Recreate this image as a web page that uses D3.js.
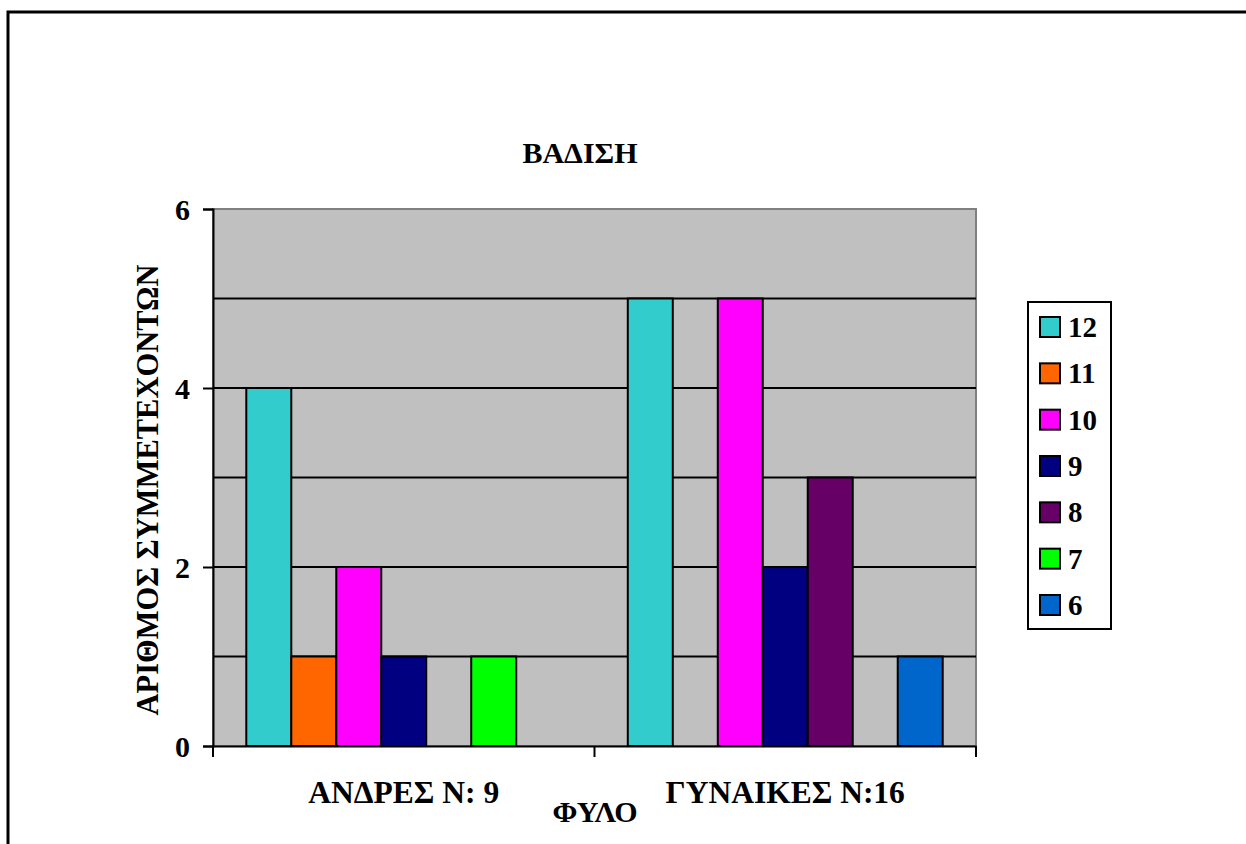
<!DOCTYPE html>
<html>
<head>
<meta charset="utf-8">
<script src="https://cdn.jsdelivr.net/npm/d3@7"></script>
<style>
  html, body { margin: 0; padding: 0; background: #fff; }
  svg { display: block; }
  svg text { font-family: "Liberation Serif", "Times New Roman", serif; font-weight: bold; fill: #000; }
</style>
</head>
<body>
<svg id="chart" width="1246" height="844"></svg>
<script>
const categories = ["ΑΝΔΡΕΣ Ν: 9", "ΓΥΝΑΙΚΕΣ Ν:16"];
const seriesNames = ["12", "11", "10", "9", "8", "7", "6"];
const seriesColors = ["#33CCCC", "#FF6600", "#FF00FF", "#000080", "#660066", "#00FF00", "#0066CC"];
const menValues = [4, 1, 2, 1, 0, 1, 0];
const womenValues = [5, 0, 5, 2, 3, 0, 1];
const yTicks = [0, 2, 4, 6];
const yGrid = [1, 2, 3, 4, 5];
const titleText = "ΒΑΔΙΣΗ";
const yTitle = "ΑΡΙΘΜΟΣ ΣΥΜΜΕΤΕΧΟΝΤΩΝ";
const xTitle = "ΦΥΛΟ";

const values = [menValues, womenValues];

const svg = d3.select("#chart");
const plot = { left: 213, right: 976, top: 209, bottom: 746 };

// outer frame
svg.append("rect").attr("x", 8).attr("y", 12).attr("width", 1400).attr("height", 1000)
  .attr("fill", "none").attr("stroke", "#000").attr("stroke-width", 3);

const x = d3.scaleBand().domain(categories).range([plot.left, plot.right]).padding(0);
const xs = d3.scaleBand().domain(seriesNames).range([0, x.bandwidth()]).paddingInner(0).paddingOuter(0.74);
const y = d3.scaleLinear().domain([0, 6]).range([plot.bottom, plot.top]);

// plot background
svg.append("rect").attr("x", plot.left).attr("y", plot.top)
  .attr("width", plot.right - plot.left).attr("height", plot.bottom - plot.top)
  .attr("fill", "#C0C0C0").attr("stroke", "#808080").attr("stroke-width", 2);

// gridlines
svg.append("g").selectAll("line").data(yGrid).join("line")
  .attr("x1", plot.left).attr("x2", plot.right)
  .attr("y1", d => y(d)).attr("y2", d => y(d))
  .attr("stroke", "#000").attr("stroke-width", 2);

// bars
const data = [];
categories.forEach((c, ci) => seriesNames.forEach((s, si) => {
  if (values[ci][si] > 0) data.push({ c, s, v: values[ci][si], color: seriesColors[si] });
}));
svg.append("g").selectAll("rect").data(data).join("rect")
  .attr("x", d => x(d.c) + xs(d.s))
  .attr("y", d => y(d.v))
  .attr("width", xs.bandwidth())
  .attr("height", d => y(0) - y(d.v))
  .attr("fill", d => d.color)
  .attr("stroke", "#000").attr("stroke-width", 2);

// y axis
const yAxis = svg.append("g").attr("transform", `translate(${plot.left},0)`)
  .call(d3.axisLeft(y).tickValues(yTicks).tickSize(10).tickPadding(13).tickFormat(d3.format("d")));
yAxis.attr("font-size", null).attr("font-family", null);
yAxis.select(".domain").attr("stroke", "#000").attr("stroke-width", 2);
yAxis.selectAll(".tick line").attr("stroke", "#000").attr("stroke-width", 2);
yAxis.selectAll(".tick text").style("font-size", "30px").attr("dy", "0.36em");

// x axis
const xAxis = svg.append("g").attr("transform", `translate(0,${plot.bottom})`)
  .call(d3.axisBottom(x).tickSize(0).tickFormat(""));
xAxis.select(".domain").attr("stroke", "#000").attr("stroke-width", 2);
const xBounds = [plot.left, plot.left + x.bandwidth(), plot.right];
xAxis.selectAll(".bound").data(xBounds).join("line").attr("class", "bound")
  .attr("x1", d => d).attr("x2", d => d).attr("y1", 0).attr("y2", 11)
  .attr("stroke", "#000").attr("stroke-width", 2);
svg.append("g").selectAll("text").data(categories).join("text")
  .attr("x", d => x(d) + x.bandwidth() / 2).attr("y", 803)
  .attr("text-anchor", "middle").style("font-size", "31.5px").text(d => d);

// titles
svg.append("text").attr("x", 580).attr("y", 163).attr("text-anchor", "middle")
  .style("font-size", "30px").text(titleText);
svg.append("text").attr("x", 595).attr("y", 822).attr("text-anchor", "middle")
  .style("font-size", "30px").text(xTitle);
svg.append("text").attr("transform", "translate(158,490) rotate(-90)").attr("text-anchor", "middle")
  .style("font-size", "30.5px").text(yTitle);

// legend
const legend = svg.append("g");
legend.append("rect").attr("x", 1028).attr("y", 302).attr("width", 83).attr("height", 327)
  .attr("fill", "#fff").attr("stroke", "#000").attr("stroke-width", 2);
const ly = d3.scalePoint().domain(seriesNames).range([327, 605]);
const items = legend.selectAll("g.item").data(seriesNames).join("g").attr("class", "item")
  .attr("transform", d => `translate(0,${ly(d)})`);
items.append("rect").attr("x", 1040).attr("y", -10).attr("width", 20).attr("height", 20)
  .attr("fill", (d, i) => seriesColors[i]).attr("stroke", "#000").attr("stroke-width", 2);
items.append("text").attr("x", 1068).attr("y", 10).style("font-size", "29px").text(d => d);
</script>
</body>
</html>
